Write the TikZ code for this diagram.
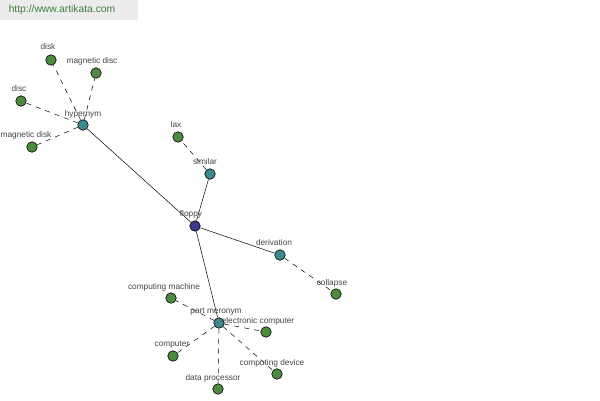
\documentclass[tikz,border=0pt]{standalone}
\usepackage{fontspec}
\setmainfont{Liberation Sans}
\begin{document}
\begin{tikzpicture}[x=1pt,y=-1pt,
  dot/.style={circle,draw=black,line width=0.6pt,minimum size=10.5pt,inner sep=0pt},
  leaf/.style={dot,fill=leafgreen},
  hub/.style={dot,fill=hubteal},
  root/.style={dot,fill=rootblue},
  lbl/.style={font=\fontsize{8.3}{10}\selectfont,text=labelgray,inner sep=0pt},
  solidedge/.style={draw=black,line width=0.5pt},
  dashedge/.style={draw=black,line width=0.5pt,dash pattern=on 5pt off 5pt}]
\definecolor{leafgreen}{RGB}{78,138,62}
\definecolor{hubteal}{RGB}{58,138,142}
\definecolor{rootblue}{RGB}{60,60,140}
\definecolor{labelgray}{RGB}{70,70,70}
\definecolor{urlgreen}{RGB}{60,130,60}
\definecolor{urlbg}{RGB}{236,236,236}
\useasboundingbox (0,0) rectangle (600,400);
\fill[white] (0,0) rectangle (600,400);
\node[fill=urlbg,minimum width=138pt,minimum height=20pt,anchor=north west,inner sep=0pt] (urlbox) at (0,0) {};
\node[font=\fontsize{10.3}{12}\selectfont,text=urlgreen,inner sep=0pt] (url) at (62,10) {http://www.artikata.com};
% nodes
\node[root] (floppy) at (195,226) {};
\node[hub] (similar) at (210,174) {};
\node[leaf] (lax) at (178,137) {};
\node[hub] (hypernym) at (83,125) {};
\node[leaf] (disk) at (51,60) {};
\node[leaf] (magdisc) at (96,73) {};
\node[leaf] (disc) at (21,101) {};
\node[leaf] (magdisk) at (32,147) {};
\node[hub] (derivation) at (280,255) {};
\node[leaf] (collapse) at (336,294) {};
\node[hub] (partmer) at (219,323) {};
\node[leaf] (compmach) at (171,298) {};
\node[leaf] (eleccomp) at (266,332) {};
\node[leaf] (computer) at (173,356) {};
\node[leaf] (compdev) at (277,374) {};
\node[leaf] (dataproc) at (218,389) {};
% edges
\draw[solidedge] (floppy) -- (hypernym);
\draw[solidedge] (floppy) -- (similar);
\draw[solidedge] (floppy) -- (derivation);
\draw[solidedge] (floppy) -- (partmer);
\draw[dashedge] (similar) -- (lax);
\draw[dashedge] (hypernym) -- (disk);
\draw[dashedge] (hypernym) -- (magdisc);
\draw[dashedge] (hypernym) -- (disc);
\draw[dashedge] (hypernym) -- (magdisk);
\draw[dashedge] (derivation) -- (collapse);
\draw[dashedge] (partmer) -- (compmach);
\draw[dashedge] (partmer) -- (eleccomp);
\draw[dashedge] (partmer) -- (computer);
\draw[dashedge] (partmer) -- (compdev);
\draw[dashedge] (partmer) -- (dataproc);
% labels
\node[lbl] (lfloppy) at (191,214) {floppy};
\node[lbl] (lsimilar) at (205,162) {similar};
\node[lbl] (llax) at (176,125) {lax};
\node[lbl] (lhypernym) at (83,114) {hypernym};
\node[lbl] (ldisk) at (48,47) {disk};
\node[lbl] (lmagdisc) at (92,61) {magnetic disc};
\node[lbl] (ldisc) at (19,89) {disc};
\node[lbl] (lmagdisk) at (26,135) {magnetic disk};
\node[lbl] (lderivation) at (274,243) {derivation};
\node[lbl] (lcollapse) at (332,283) {collapse};
\node[lbl] (lpartmer) at (216,312) {part meronym};
\node[lbl] (lcompmach) at (164,287) {computing machine};
\node[lbl] (leleccomp) at (258,321) {electronic computer};
\node[lbl] (lcomputer) at (172,345) {computer};
\node[lbl] (lcompdev) at (272,363) {computing device};
\node[lbl] (ldataproc) at (213,378) {data processor};
\end{tikzpicture}
\end{document}
